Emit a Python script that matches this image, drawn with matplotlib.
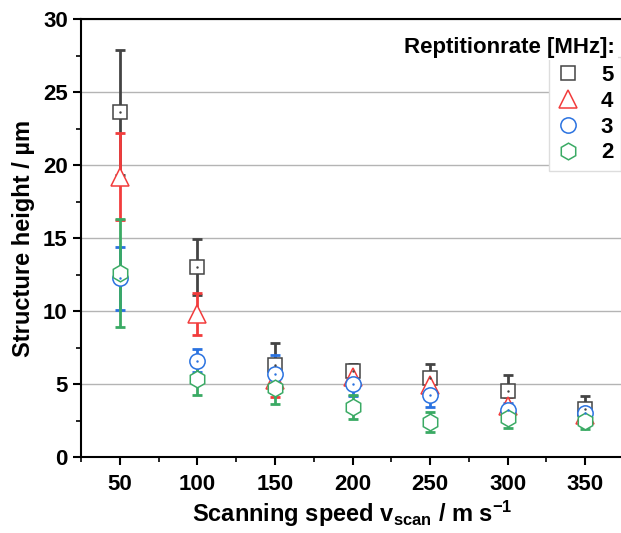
import matplotlib.pyplot as plt
from matplotlib.lines import Line2D
from matplotlib.ticker import MultipleLocator

plt.rcParams['font.family'] = ['Liberation Sans', 'DejaVu Sans']
plt.rcParams['font.weight'] = 'bold'
plt.rcParams['mathtext.fontset'] = 'custom'
plt.rcParams['mathtext.rm'] = 'Liberation Sans:bold'
plt.rcParams['mathtext.bf'] = 'Liberation Sans:bold'
plt.rcParams['mathtext.it'] = 'Liberation Sans:bold'

# scanning speed in m/s
speed = [50, 100, 150, 200, 250, 300, 350]
# repetition rate -> structure height (um) and error
rates = ['5', '4', '3', '2']
h5 = [23.6, 13.0, 6.3, 5.9, 5.4, 4.5, 3.3]
e5 = [4.3, 1.9, 1.5, 0.5, 1.0, 1.1, 0.85]
h4 = [19.2, 9.8, 5.3, 5.5, 4.9, 3.5, 2.9]
e4 = [3.0, 1.45, 1.2, 0.5, 0.5, 0.6, 0.6]
h3 = [12.25, 6.6, 5.7, 5.0, 4.25, 3.2, 3.0]
e3 = [2.15, 0.8, 1.3, 0.8, 0.85, 0.5, 0.5]
h2 = [12.6, 5.35, 4.7, 3.4, 2.4, 2.7, 2.5]
e2 = [3.7, 1.1, 1.05, 0.83, 0.68, 0.7, 0.6]

heights = [h5, h4, h3, h2]
errors = [e5, e4, e3, e2]
colors = ['#444444', '#f23c3c', '#2a72e0', '#3aaa64']
markers = ['s', '^', 'o', 'h']
msizes = [9.5, 13, 11, 12]
dotted = [True, False, True, False]

fig = plt.figure(figsize=(6.21, 5.33), dpi=100)
ax = fig.add_axes([81 / 621, 76 / 533, 543 / 621, 438 / 533])

for h, e, c, m, ms, d in zip(heights, errors, colors, markers, msizes, dotted):
    ax.errorbar(speed, h, yerr=e, fmt='none', ecolor=c, elinewidth=2,
                capsize=3.5, capthick=2, zorder=2)
    ax.plot(speed, h, linestyle='none', marker=m, markersize=ms,
            markerfacecolor='white', markeredgecolor=c, markeredgewidth=1.1, zorder=3)
    if d:
        ax.plot(speed, h, linestyle='none', marker='.', markersize=1.5, color=c, zorder=4)

ax.set_xlim(25, 375)
ax.set_ylim(0, 30)
ax.xaxis.set_major_locator(MultipleLocator(50))
ax.xaxis.set_minor_locator(MultipleLocator(25))
ax.yaxis.set_major_locator(MultipleLocator(5))
ax.yaxis.set_minor_locator(MultipleLocator(2.5))
ax.grid(axis='y', color='#b4b4b4', linewidth=1)
ax.set_axisbelow(True)
ax.tick_params(which='major', length=6, width=1.5, labelsize=16, top=False, right=False)
ax.tick_params(axis='x', which='major', pad=6)
ax.tick_params(which='minor', length=3.5, width=1.2, top=False, right=False)
for s in ['left', 'bottom', 'top']:
    ax.spines[s].set_linewidth(1.5)
ax.spines['right'].set_visible(False)

ax.set_ylabel('Structure height / µm', fontsize=17, fontweight='bold', labelpad=6)
ax.set_xlabel(r'Scanning speed v$_{scan}$ / m s$^{-1}$', fontsize=17, fontweight='bold', labelpad=3)

handles = [Line2D([], [], linestyle='none', marker=m, markersize=ms,
                  markerfacecolor='white', markeredgecolor=c, markeredgewidth=1.1)
           for m, ms, c in zip(markers, msizes, colors)]
leg = ax.legend(handles, rates, loc='upper right', bbox_to_anchor=(621 / 621, 1 - 57 / 533),
                bbox_transform=fig.transFigure, prop={'weight': 'bold', 'size': 16},
                frameon=True, fancybox=False, edgecolor='#dddddd', framealpha=1,
                handlelength=1.0, handletextpad=1.0, labelspacing=0.22,
                borderpad=0.35, borderaxespad=0)
fig.text(615 / 621, 1 - 47 / 533, 'Reptitionrate [MHz]:', ha='right', va='center',
         fontsize=16, fontweight='bold',
         bbox=dict(facecolor='white', edgecolor='none', pad=2))

fig.savefig('out.png', dpi=100)
